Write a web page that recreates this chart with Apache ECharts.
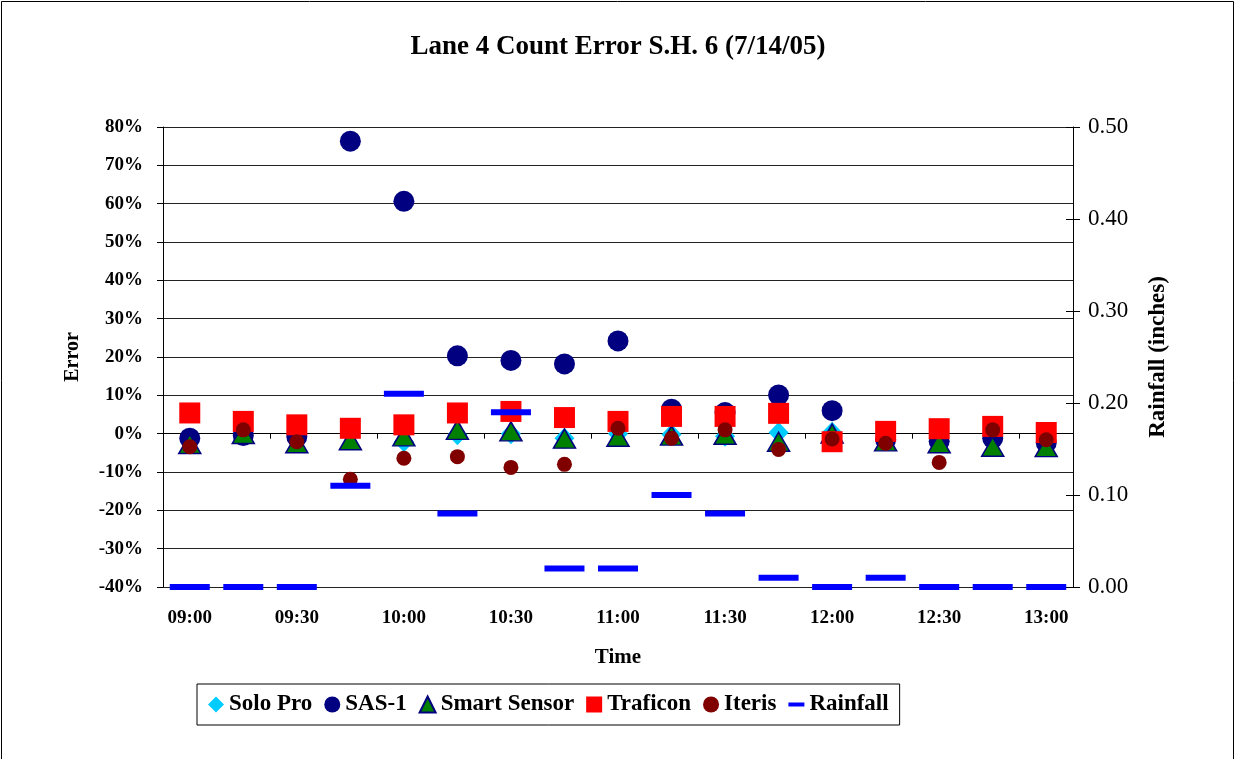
<!DOCTYPE html>
<html>
<head>
<meta charset="utf-8">
<title>Lane 4 Count Error S.H. 6 (7/14/05)</title>
<script src="https://cdn.jsdelivr.net/npm/echarts@6/dist/echarts.min.js"></script>
<style>
  html, body { margin: 0; padding: 0; background: #fff; }
  #chart { width: 1236px; height: 759px; }
</style>
</head>
<body>
<div id="chart"></div>
<script>
// 15-minute intervals, 09:00 to 13:00
const times = ['09:00','09:15','09:30','09:45','10:00','10:15','10:30','10:45','11:00',
               '11:15','11:30','11:45','12:00','12:15','12:30','12:45','13:00'];

// Count error per detector, in percent
const soloPro     = [-1.5, 0.5, 0.5, 0.0, -2.1, -0.3, 0.0, -1.2, 0.0, -0.2, -0.7, 0.3, 0.4, -1.2, -1.0, -0.7, -1.5];
const sas1        = [-1.2, -0.5, -0.8, 76.3, 60.6, 20.3, 19.1, 18.2, 24.2, 6.4, 5.5, 10.1, 6.0, -1.5, -2.0, -1.2, -2.4];
const smartSensor = [-2.7, -0.1, -2.5, -1.7, -0.7, 1.0, 0.6, -1.3, -0.8, -0.5, -0.3, -2.1, 0.0, -2.0, -2.5, -3.4, -3.5];
const traficon    = [5.4, 3.2, 2.3, 1.4, 2.3, 5.4, 5.8, 4.2, 3.2, 4.5, 4.5, 5.3, -2.1, 0.6, 1.3, 1.9, 0.3];
const iteris      = [-3.4, 1.0, -2.1, -11.9, -6.4, -6.0, -8.8, -8.0, 1.4, -1.2, 1.0, -4.1, -1.4, -2.5, -7.5, 1.0, -1.6];

// Rainfall per interval, inches
const rainfall    = [0, 0, 0, 0.11, 0.21, 0.08, 0.19, 0.02, 0.02, 0.10, 0.08, 0.01, 0, 0.01, 0, 0, 0];

const FONT = "'Liberation Serif', 'Times New Roman', serif";
const chart = echarts.init(document.getElementById('chart'), null, { renderer: 'canvas' });

const dashPath = 'path://M0,0H16V4H0Z';

chart.setOption({
  animation: false,
  backgroundColor: '#ffffff',
  textStyle: { fontFamily: FONT, color: '#000' },
  title: {
    text: 'Lane 4 Count Error S.H. 6 (7/14/05)',
    left: 'center',
    top: 29,
    textStyle: { fontFamily: FONT, fontSize: 27, fontWeight: 'bold', color: '#000' }
  },
  graphic: [{
    type: 'rect',
    shape: { x: 1.5, y: 1.5, width: 1232, height: 800 },
    style: { fill: 'none', stroke: '#000', lineWidth: 1 },
    silent: true
  }],
  legend: {
    left: 197,
    top: 684,
    orient: 'horizontal',
    itemWidth: 16,
    itemHeight: 16,
    itemGap: 12,
    padding: [9, 11],
    borderColor: '#000',
    borderWidth: 1,
    textStyle: { fontFamily: FONT, fontSize: 23, fontWeight: 'bold', color: '#000' },
    data: [
      { name: 'Solo Pro', icon: 'diamond' },
      { name: 'SAS-1', icon: 'circle' },
      { name: 'Smart Sensor', icon: 'triangle' },
      { name: 'Traficon', icon: 'rect' },
      { name: 'Iteris', icon: 'circle' },
      { name: 'Rainfall', icon: dashPath }
    ]
  },
  grid: { left: 163, right: 163, top: 127, bottom: 172 },
  xAxis: {
    type: 'category',
    data: times,
    boundaryGap: true,
    name: 'Time',
    nameLocation: 'middle',
    nameGap: 60,
    nameTextStyle: { fontFamily: FONT, fontSize: 21, fontWeight: 'bold', color: '#000' },
    axisLine: { lineStyle: { color: '#000', width: 1 } },
    axisTick: { show: true, interval: 1, length: 5, lineStyle: { color: '#000' } },
    axisLabel: { interval: 1, margin: 22, fontFamily: FONT, fontSize: 19, fontWeight: 'bold', color: '#000' },
    splitLine: { show: false }
  },
  yAxis: [{
    type: 'value',
    min: -40, max: 80, interval: 10,
    position: 'left',
    name: 'Error',
    nameLocation: 'middle',
    nameRotate: 90,
    nameGap: 80,
    nameTextStyle: { fontFamily: FONT, fontSize: 20, fontWeight: 'bold', color: '#000' },
    axisLine: { show: true, lineStyle: { color: '#000', width: 1 } },
    axisTick: { show: true, length: 6, lineStyle: { color: '#000' } },
    axisLabel: { formatter: '{value}%', margin: 20, fontFamily: FONT, fontSize: 19, fontWeight: 'bold', color: '#000' },
    splitLine: { show: true, lineStyle: { color: '#222', width: 1 } }
  }, {
    type: 'value',
    min: 0, max: 0.5, interval: 0.1,
    position: 'right',
    name: 'Rainfall (inches)',
    nameLocation: 'middle',
    nameRotate: 90,
    nameGap: 74,
    nameTextStyle: { fontFamily: FONT, fontSize: 23, fontWeight: 'bold', color: '#000' },
    axisLine: { show: true, lineStyle: { color: '#000', width: 1 } },
    axisTick: { show: true, length: 7, lineStyle: { color: '#000' } },
    axisLabel: { formatter: v => v.toFixed(2), margin: 15, fontFamily: FONT, fontSize: 23, color: '#000' },
    splitLine: { show: false }
  }, {
    // inner half of the crossing ticks on the rainfall axis
    type: 'value',
    min: 0, max: 0.5, interval: 0.1,
    position: 'right',
    axisLine: { show: false },
    axisTick: { show: true, inside: true, length: 7, lineStyle: { color: '#000' } },
    axisLabel: { show: false },
    splitLine: { show: false }
  }],
  series: [{
    name: 'Solo Pro',
    type: 'scatter',
    yAxisIndex: 0,
    data: soloPro,
    symbol: 'diamond',
    symbolSize: [20, 21],
    itemStyle: { color: '#00CCFF', opacity: 1 }
  }, {
    name: 'SAS-1',
    type: 'scatter',
    yAxisIndex: 0,
    data: sas1,
    symbol: 'circle',
    symbolSize: 21,
    itemStyle: { color: '#000080', opacity: 1 }
  }, {
    name: 'Smart Sensor',
    type: 'scatter',
    yAxisIndex: 0,
    data: smartSensor,
    symbol: 'triangle',
    symbolSize: [22, 19],
    itemStyle: { color: '#008000', borderColor: '#000080', borderWidth: 1.5, opacity: 1 }
  }, {
    name: 'Traficon',
    type: 'scatter',
    yAxisIndex: 0,
    data: traficon,
    symbol: 'rect',
    symbolSize: 21,
    itemStyle: { color: '#FF0000', opacity: 1 }
  }, {
    name: 'Iteris',
    type: 'scatter',
    yAxisIndex: 0,
    data: iteris,
    symbol: 'circle',
    symbolSize: 15,
    itemStyle: { color: '#800000', opacity: 1 }
  }, {
    name: 'Rainfall',
    type: 'scatter',
    yAxisIndex: 1,
    data: rainfall,
    symbol: 'rect',
    symbolSize: [40, 6],
    itemStyle: { color: '#0000FF', opacity: 1 }
  }]
});
</script>
</body>
</html>
